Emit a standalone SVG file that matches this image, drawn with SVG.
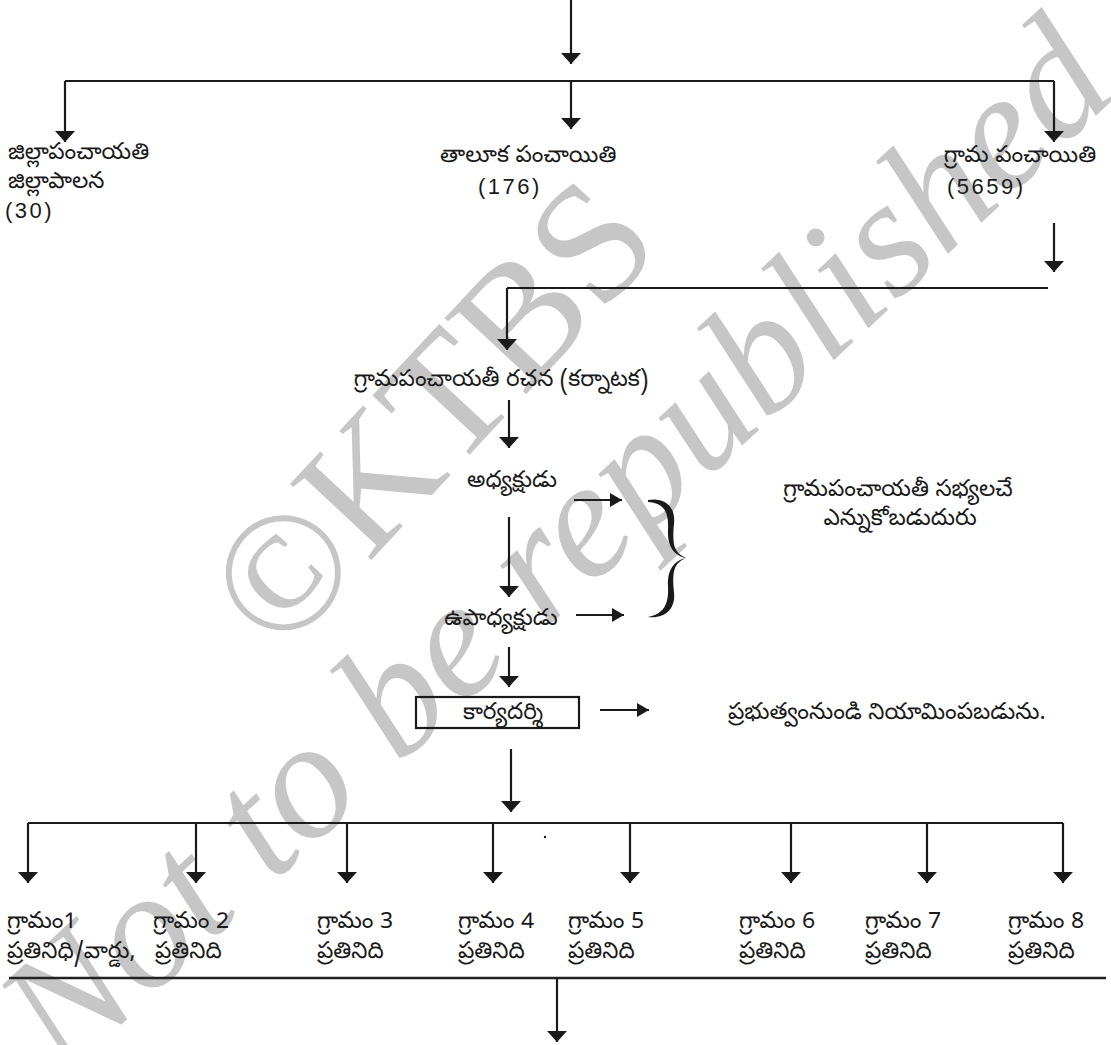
<svg xmlns="http://www.w3.org/2000/svg" width="1111" height="1045" viewBox="0 0 1111 1045">
<style>
.t{font-family:"Noto Sans Telugu","Noto Sans",sans-serif;font-size:23px;fill:#1a1a1a}
.m{text-anchor:middle}
.n{font-family:"Liberation Sans",Arial,sans-serif;font-size:22px;letter-spacing:2.5px;fill:#1a1a1a}
.wm{font-family:"Liberation Serif","Times New Roman",serif;fill:#c6c6c6}
.c{stroke:#1a1a1a;stroke-width:2.2;fill:none}
.a{stroke:#1a1a1a;stroke-width:2.2;fill:none;marker-end:url(#ah)}
.h{stroke:#1a1a1a;stroke-width:2.2;fill:none;marker-end:url(#ahs)}
</style>
<defs>
<marker id="ah" markerUnits="userSpaceOnUse" viewBox="0 0 11 20" refX="11" refY="10" markerWidth="11" markerHeight="20" orient="auto"><path d="M0,0 L11,10 L0,20 z" fill="#1a1a1a"/></marker>
<marker id="ahs" markerUnits="userSpaceOnUse" viewBox="0 0 12 14" refX="12" refY="7" markerWidth="12" markerHeight="14" orient="auto"><path d="M0,0 L12,7 L0,14 z" fill="#1a1a1a"/></marker>
</defs>
<rect width="1111" height="1045" fill="#ffffff"/>
<g id="watermark">
<text class="wm" font-size="170" transform="translate(280,658) rotate(-47)">©KTBS</text>
<text class="wm" font-size="168" font-style="italic" transform="translate(64,1078) rotate(-43)">Not to be republished</text>
</g>
<g id="connectors">
<path class="a" d="M571,0 V64"/>
<path class="c" d="M65,81 H1054"/>
<path class="a" d="M65,81 V142"/>
<path class="a" d="M571,81 V129"/>
<path class="a" d="M1054,81 V142"/>
<path class="a" d="M1054,223 V272"/>
<path class="c" d="M507,288 H1048"/>
<path class="a" d="M507,288 V350"/>
<path class="a" d="M509,400 V448"/>
<path class="h" d="M574,500 H622"/>
<path class="a" d="M509,517 V597"/>
<path class="h" d="M576,615 H624"/>
<path d="M648,500 C664,497 676,506 674,524 C672,545 674,553 686,558 C676,556 667,548 668,530 C669,512 664,503 648,502 Z" fill="#1a1a1a"/>
<path d="M686,558 C674,563 672,571 674,592 C676,610 664,619 648,617 C664,614 669,604 668,586 C667,568 676,560 686,558 Z" fill="#1a1a1a"/>
<path class="a" d="M509,647 V687"/>
<path class="h" d="M600,710 H649"/>
<path class="a" d="M511,749 V812"/>
<path class="c" d="M28,823 H1063"/>
<path class="a" d="M28,823 V883"/>
<path class="a" d="M196,823 V883"/>
<path class="a" d="M347,823 V883"/>
<path class="a" d="M493,823 V883"/>
<path class="a" d="M630,823 V883"/>
<path class="a" d="M791,823 V883"/>
<path class="a" d="M927,823 V883"/>
<path class="a" d="M1063,823 V883"/>
<circle cx="545" cy="837" r="1.2" fill="#1a1a1a"/>
<path d="M9,978 H1106" stroke="#222" stroke-width="2.6"/>
<path class="a" d="M557,978 V1042"/>
</g>
<g id="zilla"><text class="t" x="8" y="159">జిల్లాపంచాయతి</text><text class="t" x="8" y="188">జిల్లాపాలన</text><text class="n" x="5" y="218">(30)</text></g>
<g id="taluk"><text class="t" x="440" y="162">తాలూక పంచాయితి</text><text class="n" x="478" y="194">(176)</text></g>
<g id="grama"><text class="t m" x="1020" y="162">గ్రామ పంచాయితి</text><text class="n" x="947" y="194">(5659)</text></g>
<g id="rachana"><text class="t m" x="501" y="386">గ్రామపంచాయతీ రచన (కర్నాటక)</text></g>
<g id="adhyaksha"><text class="t m" x="512" y="487">అధ్యక్షుడు</text></g>
<g id="upadhyaksha"><text class="t m" x="501" y="625">ఉపాధ్యక్షుడు</text></g>
<g id="elected"><text class="t m" x="898" y="496">గ్రామపంచాయతీ సభ్యలచే</text><text class="t m" x="900" y="525">ఎన్నుకోబడుదురు</text></g>
<g id="karyadarshi"><rect x="416" y="697" width="163" height="31" fill="none" stroke="#1a1a1a" stroke-width="2.2"/><text class="t m" x="503" y="719">కార్యదర్శి</text></g>
<g id="appointed"><text class="t" x="728" y="719">ప్రభుత్వంనుండి నియామింపబడును.</text></g>
<g id="g1"><text class="t" x="7" y="928">గ్రామం1</text><text class="t" x="7" y="958">ప్రతినిధి/వార్డు,</text></g>
<g id="g2"><text class="t" x="153" y="928">గ్రామం 2</text><text class="t" x="155" y="958">ప్రతినిది</text></g>
<g id="g3"><text class="t" x="317" y="928">గ్రామం 3</text><text class="t" x="317" y="958">ప్రతినిది</text></g>
<g id="g4"><text class="t" x="458" y="928">గ్రామం 4</text><text class="t" x="458" y="958">ప్రతినిది</text></g>
<g id="g5"><text class="t" x="568" y="928">గ్రామం 5</text><text class="t" x="568" y="958">ప్రతినిది</text></g>
<g id="g6"><text class="t" x="739" y="928">గ్రామం 6</text><text class="t" x="739" y="958">ప్రతినిది</text></g>
<g id="g7"><text class="t" x="865" y="928">గ్రామం 7</text><text class="t" x="865" y="958">ప్రతినిది</text></g>
<g id="g8"><text class="t" x="1008" y="928">గ్రామం 8</text><text class="t" x="1008" y="958">ప్రతినిది</text></g>
</svg>
